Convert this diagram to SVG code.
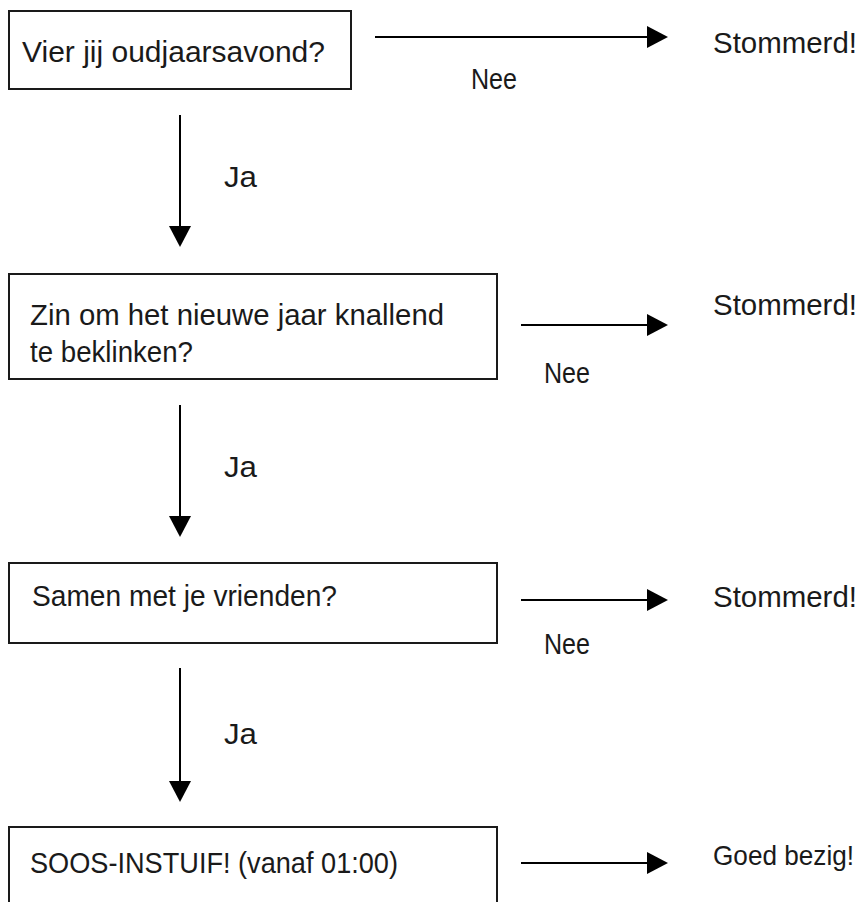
<svg xmlns="http://www.w3.org/2000/svg" width="868" height="902" viewBox="0 0 868 902">
  <style>
    .box { fill: #ffffff; stroke: #1a1a1a; stroke-width: 2; }
    .t { font-family: "Liberation Sans", Arial, sans-serif; font-size: 30px; fill: #1a1a1a; }
    .conn { stroke: #000000; stroke-width: 2; fill: none; }
  </style>
  <defs>
    <marker id="ah" markerUnits="userSpaceOnUse" markerWidth="22" markerHeight="22" refX="0" refY="11" orient="auto" viewBox="0 0 22 22">
      <path d="M0,0 L21,11 L0,22 Z" fill="#000000"/>
    </marker>
  </defs>
  <rect width="868" height="902" fill="#ffffff"/>

  <g id="connectors">
    <line class="conn" x1="375" y1="37" x2="647" y2="37" marker-end="url(#ah)"/>
    <line class="conn" x1="180" y1="115" x2="180" y2="226" marker-end="url(#ah)"/>
    <line class="conn" x1="521" y1="325" x2="647" y2="325" marker-end="url(#ah)"/>
    <line class="conn" x1="180" y1="405" x2="180" y2="516" marker-end="url(#ah)"/>
    <line class="conn" x1="521" y1="600" x2="647" y2="600" marker-end="url(#ah)"/>
    <line class="conn" x1="180" y1="668" x2="180" y2="781" marker-end="url(#ah)"/>
    <line class="conn" x1="521" y1="863" x2="647" y2="863" marker-end="url(#ah)"/>
  </g>

  <g id="labels">
    <text class="t" x="471" y="89" textLength="46" lengthAdjust="spacingAndGlyphs">Nee</text>
    <text class="t" x="224" y="187" textLength="33" lengthAdjust="spacingAndGlyphs">Ja</text>
    <text class="t" x="544" y="383" textLength="46" lengthAdjust="spacingAndGlyphs">Nee</text>
    <text class="t" x="224" y="477" textLength="33" lengthAdjust="spacingAndGlyphs">Ja</text>
    <text class="t" x="544" y="654" textLength="46" lengthAdjust="spacingAndGlyphs">Nee</text>
    <text class="t" x="224" y="744" textLength="33" lengthAdjust="spacingAndGlyphs">Ja</text>
  </g>

  <g id="q1">
    <rect class="box" x="9" y="11" width="342" height="78"/>
    <text class="t" x="22" y="62" textLength="303" lengthAdjust="spacingAndGlyphs">Vier jij oudjaarsavond?</text>
  </g>
  <g id="r1">
    <text class="t" x="713" y="53" textLength="144" lengthAdjust="spacingAndGlyphs">Stommerd!</text>
  </g>

  <g id="q2">
    <rect class="box" x="9" y="274" width="488" height="105"/>
    <text class="t" x="30" y="325" textLength="414" lengthAdjust="spacingAndGlyphs">Zin om het nieuwe jaar knallend</text>
    <text class="t" x="30" y="362" textLength="163" lengthAdjust="spacingAndGlyphs">te beklinken?</text>
  </g>
  <g id="r2">
    <text class="t" x="713" y="315" textLength="144" lengthAdjust="spacingAndGlyphs">Stommerd!</text>
  </g>

  <g id="q3">
    <rect class="box" x="9" y="563" width="488" height="80"/>
    <text class="t" x="32" y="606" textLength="305" lengthAdjust="spacingAndGlyphs">Samen met je vrienden?</text>
  </g>
  <g id="r3">
    <text class="t" x="713" y="607" textLength="144" lengthAdjust="spacingAndGlyphs">Stommerd!</text>
  </g>

  <g id="q4">
    <path class="box" d="M9,903 L9,827 L497,827 L497,903"/>
    <text class="t" x="30" y="873" textLength="368" lengthAdjust="spacingAndGlyphs">SOOS-INSTUIF! (vanaf 01:00)</text>
  </g>
  <g id="r4">
    <text class="t" x="713" y="865" style="font-size:28px" textLength="141" lengthAdjust="spacingAndGlyphs">Goed bezig!</text>
  </g>
</svg>
